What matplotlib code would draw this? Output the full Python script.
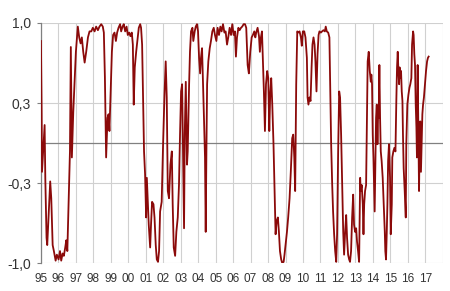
"""Recreate the red correlation-style indicator chart (1995-2017)."""

import matplotlib

matplotlib.use("Agg")
import matplotlib.pyplot as plt

# decimal year of each reading, and the indicator value at that date
years = [
    1995.00, 1995.04, 1995.06, 1995.21, 1995.25, 1995.32, 1995.36, 1995.53, 1995.59, 1995.67,
    1995.74, 1995.84, 1995.91, 1996.01, 1996.09, 1996.16, 1996.24, 1996.31, 1996.39, 1996.45,
    1996.51, 1996.58, 1996.66, 1996.71, 1996.77, 1996.85, 1996.92, 1997.00, 1997.11, 1997.19,
    1997.27, 1997.34, 1997.42, 1997.50, 1997.59, 1997.69, 1997.78, 1997.88, 1997.97, 1998.07,
    1998.16, 1998.26, 1998.35, 1998.45, 1998.54, 1998.60, 1998.66, 1998.73, 1998.81, 1998.87,
    1998.92, 1999.00, 1999.06, 1999.13, 1999.21, 1999.29, 1999.36, 1999.44, 1999.53, 1999.59,
    1999.67, 1999.74, 1999.82, 1999.90, 1999.97, 2000.05, 2000.12, 2000.20, 2000.26, 2000.31,
    2000.37, 2000.45, 2000.52, 2000.60, 2000.68, 2000.73, 2000.79, 2000.85, 2000.90, 2000.96,
    2001.02, 2001.06, 2001.11, 2001.17, 2001.25, 2001.30, 2001.36, 2001.44, 2001.50, 2001.57,
    2001.63, 2001.70, 2001.76, 2001.82, 2001.91, 2001.99, 2002.07, 2002.14, 2002.20, 2002.26,
    2002.33, 2002.41, 2002.49, 2002.54, 2002.60, 2002.68, 2002.75, 2002.83, 2002.90, 2002.96,
    2003.02, 2003.08, 2003.13, 2003.19, 2003.23, 2003.29, 2003.32, 2003.36, 2003.40, 2003.44,
    2003.48, 2003.53, 2003.59, 2003.67, 2003.72, 2003.80, 2003.86, 2003.93, 2003.99, 2004.05,
    2004.11, 2004.16, 2004.22, 2004.28, 2004.33, 2004.39, 2004.43, 2004.47, 2004.51, 2004.58,
    2004.66, 2004.73, 2004.81, 2004.89, 2004.96, 2005.04, 2005.11, 2005.19, 2005.27, 2005.34,
    2005.42, 2005.50, 2005.57, 2005.65, 2005.72, 2005.80, 2005.88, 2005.95, 2006.03, 2006.10,
    2006.16, 2006.22, 2006.30, 2006.37, 2006.45, 2006.52, 2006.60, 2006.68, 2006.75, 2006.83,
    2006.90, 2006.98, 2007.06, 2007.13, 2007.21, 2007.27, 2007.32, 2007.40, 2007.48, 2007.53,
    2007.59, 2007.65, 2007.70, 2007.76, 2007.82, 2007.88, 2007.95, 2008.01, 2008.07, 2008.12,
    2008.18, 2008.24, 2008.31, 2008.37, 2008.43, 2008.49, 2008.56, 2008.62, 2008.68, 2008.75,
    2008.81, 2008.89, 2008.94, 2009.00, 2009.08, 2009.15, 2009.23, 2009.30, 2009.38, 2009.44,
    2009.50, 2009.55, 2009.61, 2009.67, 2009.72, 2009.80, 2009.88, 2009.93, 2009.99, 2010.07,
    2010.14, 2010.22, 2010.26, 2010.31, 2010.37, 2010.43, 2010.49, 2010.54, 2010.60, 2010.66,
    2010.71, 2010.77, 2010.83, 2010.89, 2010.94, 2011.02, 2011.09, 2011.17, 2011.25, 2011.30,
    2011.36, 2011.44, 2011.51, 2011.55, 2011.61, 2011.67, 2011.72, 2011.78, 2011.84, 2011.90,
    2011.95, 2012.01, 2012.07, 2012.12, 2012.18, 2012.24, 2012.30, 2012.35, 2012.41, 2012.47,
    2012.52, 2012.58, 2012.64, 2012.69, 2012.75, 2012.81, 2012.87, 2012.92, 2012.98, 2013.04,
    2013.09, 2013.15, 2013.21, 2013.27, 2013.30, 2013.36, 2013.42, 2013.46, 2013.50, 2013.55,
    2013.61, 2013.67, 2013.70, 2013.76, 2013.82, 2013.88, 2013.91, 2013.95, 2013.99, 2014.03,
    2014.07, 2014.10, 2014.14, 2014.18, 2014.22, 2014.26, 2014.30, 2014.33, 2014.37, 2014.41,
    2014.45, 2014.50, 2014.56, 2014.62, 2014.68, 2014.71, 2014.75, 2014.79, 2014.83, 2014.87,
    2014.92, 2014.98, 2015.02, 2015.08, 2015.11, 2015.17, 2015.23, 2015.29, 2015.34, 2015.38,
    2015.42, 2015.46, 2015.50, 2015.53, 2015.57, 2015.61, 2015.65, 2015.69, 2015.72, 2015.76,
    2015.82, 2015.88, 2015.91, 2015.97, 2016.03, 2016.09, 2016.14, 2016.20, 2016.24, 2016.30,
    2016.33, 2016.37, 2016.41, 2016.45, 2016.49, 2016.52, 2016.56, 2016.60, 2016.64, 2016.68,
    2016.71, 2016.75, 2016.79, 2016.83, 2016.87, 2016.92, 2016.98, 2017.04, 2017.10, 2017.15,
    2017.19,
]

values = [
    0.85, 0.25, -0.24, 0.15, -0.30, -0.79, -0.85, -0.32, -0.46, -0.85,
    -0.90, -0.98, -0.93, -0.97, -0.90, -0.98, -0.92, -0.94, -0.87, -0.81,
    -0.90, -0.51, -0.07, 0.80, -0.12, 0.26, 0.49, 0.76, 0.97, 0.88,
    0.83, 0.88, 0.76, 0.67, 0.76, 0.88, 0.93, 0.93, 0.96, 0.93,
    0.97, 0.94, 0.97, 0.99, 0.97, 0.92, 0.55, -0.12, 0.21, 0.24,
    0.10, 0.49, 0.76, 0.90, 0.92, 0.85, 0.92, 0.96, 0.99, 0.93,
    0.97, 0.99, 0.93, 0.97, 0.90, 0.92, 0.89, 0.92, 0.82, 0.32,
    0.63, 0.76, 0.85, 0.96, 0.99, 0.96, 0.82, 0.35, -0.07, -0.26,
    -0.62, -0.29, -0.46, -0.68, -0.87, -0.68, -0.49, -0.51, -0.62, -0.85,
    -0.97, -0.99, -0.90, -0.57, -0.49, -0.01, 0.40, 0.68, 0.38, -0.40,
    -0.46, -0.18, -0.07, -0.51, -0.87, -0.94, -0.74, -0.62, -0.35, 0.07,
    0.43, 0.49, -0.07, -0.71, 0.07, 0.51, 0.21, -0.18, -0.07, 0.21,
    0.49, 0.76, 0.93, 0.96, 0.85, 0.93, 0.97, 0.99, 0.93, 0.71,
    0.58, 0.71, 0.79, 0.49, 0.21, -0.12, -0.74, -0.07, 0.49, 0.68,
    0.79, 0.85, 0.93, 0.96, 0.90, 0.85, 0.96, 0.90, 0.97, 0.93,
    0.99, 0.92, 0.93, 0.82, 0.88, 0.96, 0.90, 0.99, 0.90, 0.93,
    0.72, 0.88, 0.96, 0.94, 0.96, 0.97, 0.99, 0.99, 0.96, 0.65,
    0.58, 0.76, 0.88, 0.90, 0.93, 0.88, 0.92, 0.96, 0.89, 0.76,
    0.88, 0.93, 0.71, 0.43, 0.10, 0.49, 0.60, 0.54, 0.10, 0.40,
    0.54, 0.32, -0.01, -0.40, -0.76, -0.65, -0.62, -0.74, -0.90, -0.97,
    -1.00, -0.99, -0.93, -0.85, -0.74, -0.62, -0.46, -0.24, 0.04, 0.07,
    -0.12, -0.40, 0.49, 0.93, 0.92, 0.93, 0.88, 0.81, 0.93, 0.93,
    0.88, 0.71, 0.38, 0.32, 0.38, 0.35, 0.63, 0.82, 0.88, 0.82,
    0.68, 0.43, 0.74, 0.90, 0.93, 0.92, 0.93, 0.94, 0.93, 0.97,
    0.93, 0.92, 0.88, 0.54, -0.01, -0.35, -0.57, -0.76, -0.90, -0.99,
    -0.76, -0.07, 0.43, 0.38, 0.07, -0.35, -0.74, -0.93, -0.74, -0.60,
    -0.79, -0.93, -0.97, -0.99, -0.90, -0.62, -0.43, -0.68, -0.74, -0.71,
    -0.82, -0.90, -0.99, -0.29, -0.40, -0.35, -0.51, -0.76, -0.51, -0.40,
    -0.35, 0.35, 0.68, 0.76, 0.60, 0.51, 0.57, 0.49, 0.07, -0.12,
    -0.40, -0.57, -0.15, 0.21, 0.32, -0.01, 0.26, 0.21, 0.65, 0.21,
    -0.07, -0.15, -0.29, -0.51, -0.74, -0.90, -0.97, -0.76, -0.51, -0.15,
    -0.01, -0.29, -0.76, -0.51, -0.12, -0.07, -0.04, -0.07, 0.35, 0.63,
    0.76, 0.60, 0.49, 0.63, 0.54, 0.60, 0.43, 0.35, 0.07, -0.21,
    -0.40, -0.62, -0.01, 0.32, 0.40, 0.46, 0.49, 0.54, 0.82, 0.93,
    0.90, 0.74, 0.65, 0.32, 0.13, -0.12, 0.65, 0.13, -0.40, 0.07,
    0.18, -0.24, -0.01, 0.24, 0.32, 0.38, 0.49, 0.60, 0.68, 0.71,
    0.72,
]

year_ticks = list(range(1995, 2018))
year_labels = [f"{y % 100:02d}" for y in year_ticks]
value_ticks = [-1.0, -1 / 3, 1 / 3, 1.0]
value_labels = ["-1,0", "-0,3", "0,3", "1,0"]

LINE_COLOR = "#8b0a0a"
GRID_COLOR = "#d0d0d0"
AXIS_COLOR = "#808080"

plt.rcParams["font.family"] = ["Liberation Sans", "DejaVu Sans"]

fig = plt.figure(figsize=(4.5, 2.91), dpi=100)
ax = fig.add_axes([0.091, 0.096, 0.893, 0.825])

# vertical year grid, including the right edge
for y in year_ticks + [2018]:
    ax.axvline(y, color=GRID_COLOR, linewidth=0.8, zorder=0)
for v in value_ticks:
    ax.axhline(v, color=GRID_COLOR, linewidth=0.8, zorder=0)
ax.axhline(0, color=AXIS_COLOR, linewidth=0.9, zorder=1)

ax.plot(years, values, color=LINE_COLOR, linewidth=1.3, zorder=3)

ax.set_xlim(1995, 2018)
ax.set_ylim(-1.0, 1.0)
ax.set_xticks(year_ticks)
ax.set_xticklabels(year_labels, fontsize=8.5, color="#333333")
ax.set_yticks(value_ticks)
ax.set_yticklabels(value_labels, fontsize=10, color="#333333")
ax.tick_params(axis="x", length=0, pad=7)
ax.tick_params(axis="y", length=3, color=AXIS_COLOR, pad=4)

for side in ["top", "right", "bottom"]:
    ax.spines[side].set_visible(False)
ax.spines["left"].set_color(AXIS_COLOR)
ax.spines["left"].set_linewidth(0.9)

fig.savefig("out.png", dpi=100)
